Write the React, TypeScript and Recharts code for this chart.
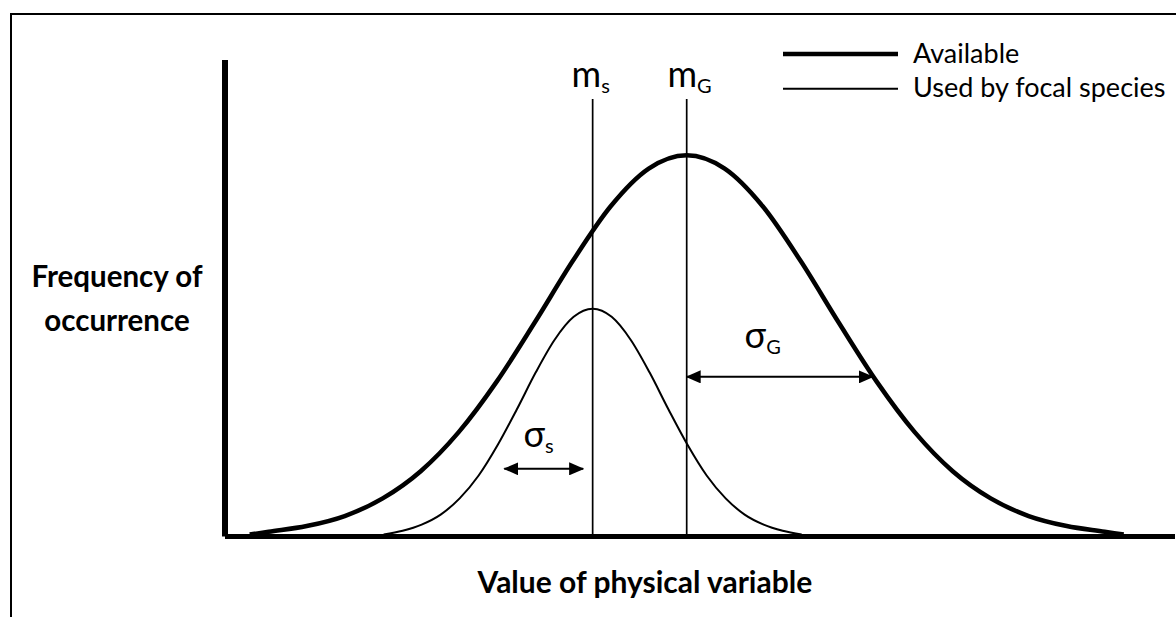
import { LineChart, Line, XAxis, YAxis, ReferenceLine, ReferenceDot, Legend, Label } from "recharts"

// values (x in arbitrary units 0-100, y as % of axis height)
const availableX = [2.6, 4.6, 8.6, 12.6, 16.6, 20.6, 24.6, 28.6, 32.6, 36.6, 40.6, 44.6, 48.6, 52.6, 56.6, 60.6, 64.6, 68.6, 72.6, 76.6, 80.6, 84.6, 88.6, 92.6, 94.6]
const availableY = [0.4, 1.0, 2.2, 4.3, 8.0, 13.7, 21.9, 32.5, 44.9, 57.8, 69.3, 77.2, 80, 77.2, 69.3, 57.8, 44.9, 32.5, 21.9, 13.7, 8.0, 4.3, 2.2, 1.0, 0.4]

const usedX = [16.7, 18.7, 20.7, 22.7, 24.7, 26.7, 28.7, 30.7, 32.7, 34.7, 36.7, 38.7, 40.7, 42.7, 44.7, 46.7, 48.7, 50.7, 52.7, 54.7, 56.7, 58.7, 60.7]
const usedY = [0.4, 1.2, 2.5, 4.6, 8.0, 12.8, 19.2, 26.6, 34.4, 41.3, 46.1, 47.8, 46.1, 41.3, 34.4, 26.6, 19.2, 12.8, 8.0, 4.6, 2.5, 1.2, 0.4]

const seriesNames = ["Available", "Used by focal species"]
const seriesWidths = [4.5, 2]

const meanS = 38.7
const meanG = 48.6
const meanTop = 91.8

const sigmaG = { from: 48.6, to: 68.2, y: 33.5 }
const sigmaS = { from: 29.4, to: 37.7, y: 14.2 }

const FONT = "Lato, 'Open Sans', sans-serif"

const availableData = availableX.map((x, i) => ({ x, y: availableY[i] }))
const usedData = usedX.map((x, i) => ({ x, y: usedY[i] }))

const symbol = (main: string, sub: string) => (props: any) => {
  const { viewBox } = props
  return (
    <text x={viewBox.x} y={viewBox.y} textAnchor="middle" fontFamily={FONT} fontSize={36} fill="#000">
      <tspan>{main}</tspan>
      <tspan fontSize={20} dy={6}>{sub}</tspan>
    </text>
  )
}

const renderLegend = (props: any) => {
  const { payload = [] } = props
  return (
    <svg width={390} height={80}>
      {payload.map((entry: any, i: number) => {
        const idx = seriesNames.indexOf(entry.value)
        return (
          <g key={entry.value}>
            <line x1={0} x2={115} y1={24 + i * 34.7} y2={24 + i * 34.7} stroke="#000" strokeWidth={seriesWidths[idx]} />
            <text x={130} y={33 + i * 34} fontFamily={FONT} fontSize={27} fill="#000">
              {entry.value}
            </text>
          </g>
        )
      })}
    </svg>
  )
}

export default function App() {
  return (
    <div style={{ position: "absolute", left: 0, top: 0, width: 1176, height: 617, overflow: "hidden", background: "#fff" }}>
      <div style={{ position: "absolute", left: 10, top: 13, width: 1200, height: 620, borderTop: "2px solid #000", borderLeft: "2px solid #000" }} />
      <LineChart width={1176} height={617} margin={{ top: 60, right: 1, bottom: 50.5, left: 165 }}>
        <defs>
          <marker id="arrowHead" viewBox="0 0 15 13" refX={14} refY={6.5} markerUnits="userSpaceOnUse" markerWidth={15} markerHeight={13} orient="auto-start-reverse">
            <path d="M0,0 L15,6.5 L0,13 z" fill="#000" />
          </marker>
        </defs>
        <XAxis
          dataKey="x"
          type="number"
          domain={[0, 100]}
          tick={false}
          tickLine={false}
          height={30}
          axisLine={{ stroke: "#000", strokeWidth: 5 }}
        >
          <Label
            content={(p: any) => (
              <text x={p.viewBox.x + p.viewBox.width * 0.442} y={593} textAnchor="middle" fontFamily={FONT} fontWeight="bold" fontSize={30} fill="#000">
                Value of physical variable
              </text>
            )}
          />
        </XAxis>
        <YAxis
          type="number"
          domain={[0, 100]}
          tick={false}
          tickLine={false}
          width={60}
          axisLine={{ stroke: "#000", strokeWidth: 6 }}
        >
          <Label
            content={(p: any) => {
              const cx = p.viewBox.x - 48
              const cy = p.viewBox.y + p.viewBox.height / 2
              return (
                <text textAnchor="middle" fontFamily={FONT} fontWeight="bold" fontSize={29.5} fill="#000">
                  <tspan x={cx} y={cy - 11}>Frequency of</tspan>
                  <tspan x={cx} y={cy + 33}>occurrence</tspan>
                </text>
              )
            }}
          />
        </YAxis>
        <Legend
          content={renderLegend}
          layout="horizontal"
          verticalAlign="middle"
          align="center"
          wrapperStyle={{ left: 783, top: 30, width: 390 }}
        />
        <Line data={availableData} dataKey="y" name={seriesNames[0]} type="monotone" stroke="#000" strokeWidth={seriesWidths[0]} dot={false} activeDot={false} isAnimationActive={false} />
        <Line data={usedData} dataKey="y" name={seriesNames[1]} type="monotone" stroke="#000" strokeWidth={seriesWidths[1]} dot={false} activeDot={false} isAnimationActive={false} />
        <ReferenceLine segment={[{ x: meanS, y: 0 }, { x: meanS, y: meanTop }]} stroke="#000" strokeWidth={1.7} />
        <ReferenceLine segment={[{ x: meanG, y: 0 }, { x: meanG, y: meanTop }]} stroke="#000" strokeWidth={1.7} />
        <ReferenceLine
          segment={[{ x: sigmaG.from, y: sigmaG.y }, { x: sigmaG.to, y: sigmaG.y }]}
          stroke="#000"
          strokeWidth={2}
          markerStart="url(#arrowHead)"
          markerEnd="url(#arrowHead)"
        />
        <ReferenceLine
          segment={[{ x: sigmaS.from, y: sigmaS.y }, { x: sigmaS.to, y: sigmaS.y }]}
          stroke="#000"
          strokeWidth={2}
          markerStart="url(#arrowHead)"
          markerEnd="url(#arrowHead)"
        />
        <ReferenceDot x={meanS - 0.2} y={94.3} r={0} fill="none" stroke="none" label={symbol("m", "s")} />
        <ReferenceDot x={meanG + 0.3} y={94.3} r={0} fill="none" stroke="none" label={symbol("m", "G")} />
        <ReferenceDot x={56.6} y={39.6} r={0} fill="none" stroke="none" label={symbol("σ", "G")} />
        <ReferenceDot x={33.0} y={18.8} r={0} fill="none" stroke="none" label={symbol("σ", "s")} />
      </LineChart>
    </div>
  )
}
